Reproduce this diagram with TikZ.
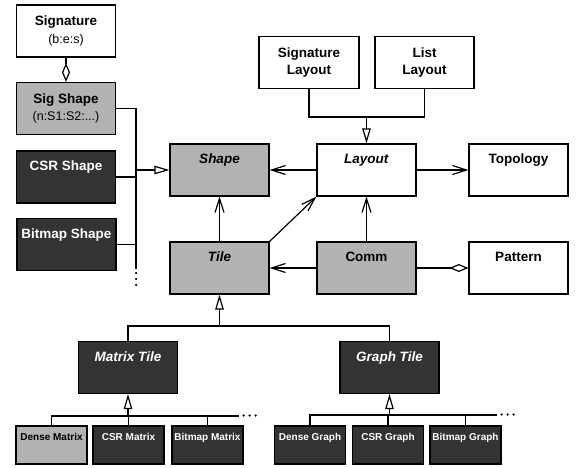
\documentclass[tikz,border=0pt]{standalone}
\usepackage{fontspec}
\setmainfont{Liberation Sans}
\usetikzlibrary{arrows.meta,positioning}

\definecolor{clsgray}{RGB}{178,178,178}
\definecolor{clsdark}{RGB}{51,51,51}
\newcommand{\subnote}[1]{{\mdseries\fontsize{12.5}{15}\selectfont #1}}

\begin{document}
\begin{tikzpicture}[x=1pt, y=-1pt,
      cls/.style={draw, line width=1.2pt, minimum width=99pt, minimum height=52pt, inner sep=0pt, align=center, font=\fontsize{13.5}{17.5}\selectfont\bfseries},
      headbox/.style={text height=9.7pt, text depth=22pt},
      subbox/.style={cls, minimum width=71pt, minimum height=38pt, font=\fontsize{10}{12}\selectfont\bfseries, text height=7.2pt, text depth=16pt},
      lgt/.style={fill=clsgray},
      drk/.style={fill=clsdark, text=white},
      dotmark/.style={fill, radius=1.25pt},
      wire/.style={line width=1.2pt},
      isa/.style={wire, -{Triangle[open, length=15pt, width=8.5pt]}},
      nav/.style={wire, -{Straight Barb[length=14pt, width=9pt]}},
      has/.style={wire, {Diamond[open, length=19pt, width=8pt]}-}]
    \useasboundingbox (0,0) rectangle (576,468);
    % left column: shapes
    \node[cls] (sig) at (66,31) {Signature\\\subnote{(b:e:s)}};
    \node[cls, lgt] (sigshape) at (66,108.5) {Sig Shape\\\subnote{(n:S1:S2:...)}};
    \node[cls, drk, headbox] (csrshape) at (66,177) {CSR Shape};
    \node[cls, drk, headbox] (bmpshape) at (66.5,244.5) {Bitmap Shape};
    % core classes
    \node[cls, lgt, headbox] (shape) at (219.5,170) {\textit{Shape}};
    \node[cls, headbox] (layout) at (366.5,170) {\textit{Layout}};
    \node[cls, headbox] (topo) at (518.5,170) {Topology};
    \node[cls, minimum width=100pt] (siglay) at (309,62.5) {Signature\\Layout};
    \node[cls] (lstlay) at (424.5,62.5) {List\\Layout};
    \node[cls, lgt, headbox] (tile) at (219.5,268) {\textit{Tile}};
    \node[cls, lgt, headbox] (comm) at (366.5,268) {Comm};
    \node[cls, headbox] (pattern) at (518.5,268) {Pattern};
    % tile kinds
    \node[cls, drk, headbox] (mtile) at (128,367.5) {\textit{Matrix Tile}};
    \node[cls, drk, headbox] (gtile) at (389.5,367.5) {\textit{Graph Tile}};
    \node[subbox, lgt] (dmat) at (51.5,445) {Dense Matrix};
    \node[subbox, drk] (cmat) at (128.5,445) {CSR Matrix};
    \node[subbox, drk] (bmat) at (207.5,445) {Bitmap Matrix};
    \node[subbox, drk] (dgraph) at (310,445) {Dense Graph};
    \node[subbox, drk] (cgraph) at (388,445) {CSR Graph};
    \node[subbox, drk] (bgraph) at (465.5,445) {Bitmap Graph};

    % shape hierarchy
    \coordinate (sbtop) at (136,108.5);
    \coordinate (sbend) at (136,269);
    \coordinate (sbmid) at (136,170);
    \draw[wire] (sigshape.east) -- (sbtop) -- (sbend);
    \draw[wire] (csrshape.east) -- (csrshape.east -| sbtop);
    \draw[wire] (bmpshape.east) -- (bmpshape.east -| sbtop);
    \draw[isa] (sbmid) -- (shape.west);
    \foreach \dy in {273,279,285}
      \fill[dotmark] (136,\dy) circle[];
    \draw[has] (sigshape.north) -- (sig.south);

    % layout hierarchy
    \coordinate (ljoin) at (366.5,117);
    \draw[wire] (siglay.south) |- (ljoin) -| (lstlay.south);
    \draw[isa] (ljoin) -- (layout.north);

    % associations
    \draw[nav] (layout) -- (shape);
    \draw[nav] (layout) -- (topo);
    \draw[nav] (tile) -- (shape);
    \draw[nav] (tile.north east) -- (layout.south west);
    \draw[nav] (comm) -- (layout);
    \draw[nav] (comm) -- (tile);
    \draw[has] (pattern) -- (comm);

    % tile hierarchy
    \coordinate (tjoin) at (219.5,326);
    \draw[wire] (mtile.north) |- (tjoin) -| (gtile.north);
    \draw[isa] (tjoin) -- (tile.south);

    % matrix tiles
    \coordinate (mbusend) at (239,416);
    \draw[wire] (dmat.north) |- (mbusend);
    \draw[wire] (cmat.north) -- (cmat.north |- mbusend);
    \draw[wire] (bmat.north) -- (bmat.north |- mbusend);
    \draw[isa] (mtile.south |- mbusend) -- (mtile.south);
    \foreach \dx in {243.5,249.5,255.5}
      \fill[dotmark] (\dx,415.5) circle[];

    % graph tiles
    \coordinate (gbusend) at (497,415);
    \draw[wire] (dgraph.north) |- (gbusend);
    \draw[wire] (cgraph.north) -- (cgraph.north |- gbusend);
    \draw[wire] (bgraph.north) -- (bgraph.north |- gbusend);
    \draw[isa] (gtile.south |- gbusend) -- (gtile.south);
    \foreach \dx in {501.5,507.5,513.5}
      \fill[dotmark] (\dx,414.5) circle[];
  \end{tikzpicture}
\end{document}
